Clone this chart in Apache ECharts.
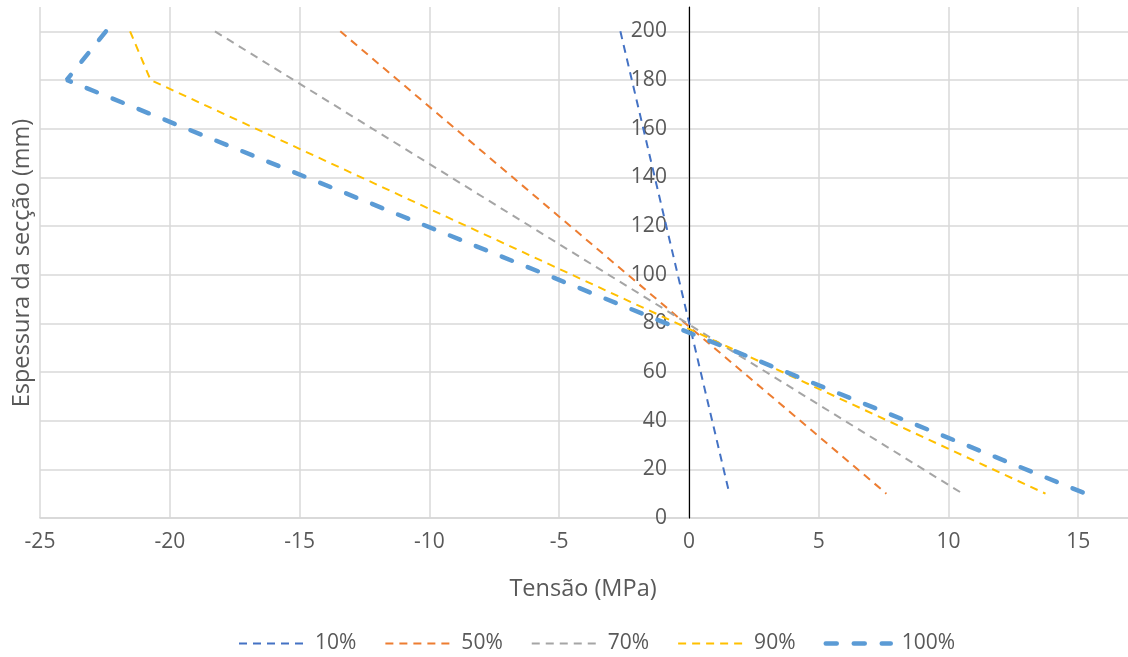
<!DOCTYPE html>
<html>
<head>
<meta charset="utf-8">
<script src="https://cdn.jsdelivr.net/npm/echarts@6/dist/echarts.min.js"></script>
<style>
html,body{margin:0;padding:0;background:#fff;}
#chart{width:1128px;height:657px;}
</style>
</head>
<body>
<div id="chart"></div>
<script>
// Data
const seriesNames = ['10%', '50%', '70%', '90%', '100%'];
const thickness10 = [200, 10];
const stress10 = [-2.64, 1.56];
const thickness50 = [200, 10];
const stress50 = [-13.43, 7.61];
const thickness70 = [200, 10];
const stress70 = [-18.26, 10.55];
const thickness90 = [200, 180, 10];
const stress90 = [-21.53, -20.74, 13.74];
const thickness100 = [200, 180, 10];
const stress100 = [-22.46, -23.97, 15.29];
const xTitle = 'Tensão (MPa)';
const yTitle = 'Espessura da secção (mm)';

const FONT = 'Open Sans';
const TXT = '#595959';

function pairs(xs, ys) { return xs.map((x, i) => [x, ys[i]]); }

const styles = [
  { color: '#4472C4', width: 2, dash: [8, 6], cap: 'butt' },
  { color: '#ED7D31', width: 2, dash: [8, 6], cap: 'butt' },
  { color: '#A5A5A5', width: 2, dash: [8, 6], cap: 'butt' },
  { color: '#FFC000', width: 2, dash: [8, 6], cap: 'butt' },
  { color: '#5B9BD5', width: 4.5, dash: [11, 17], cap: 'round' }
];
const dataSets = [
  pairs(stress10, thickness10),
  pairs(stress50, thickness50),
  pairs(stress70, thickness70),
  pairs(stress90, thickness90),
  pairs(stress100, thickness100)
];

const GRID_LEFT = 40, GRID_RIGHT_PX = 1208, X_MIN = -25, X_MAX = 20;
const zeroOffset = -(GRID_LEFT + (0 - X_MIN) / (X_MAX - X_MIN) * (GRID_RIGHT_PX - GRID_LEFT) - GRID_LEFT);

const chart = echarts.init(document.getElementById('chart'), null, { renderer: 'canvas' });
chart.setOption({
  animation: false,
  backgroundColor: '#fff',
  textStyle: { fontFamily: FONT },
  grid: { left: GRID_LEFT, right: 1128 - GRID_RIGHT_PX, top: 7, bottom: 139, containLabel: false, outerBoundsMode: 'none' },
  xAxis: {
    type: 'value', min: X_MIN, max: X_MAX, interval: 5,
    axisLine: { show: true, onZero: false, lineStyle: { color: '#d0d0d0', width: 1.5 } },
    axisTick: { show: false },
    axisLabel: { color: TXT, fontSize: 21, fontFamily: FONT, margin: 14 },
    splitLine: { show: true, lineStyle: { color: '#d9d9d9', width: 1.5 } }
  },
  yAxis: {
    type: 'value', min: 0, max: 210, interval: 20,
    position: 'left',
    offset: zeroOffset,
    z: 1,
    axisLine: { show: true, onZero: false, lineStyle: { color: '#000', width: 1.2 } },
    axisTick: { show: false },
    axisLabel: { color: TXT, fontSize: 21, fontFamily: FONT, margin: 22, showMaxLabel: false },
    splitLine: { show: true, showMaxLine: false, lineStyle: { color: '#d9d9d9', width: 1.5 } }
  },
  legend: {
    left: 233, top: 628,
    itemWidth: 65, itemHeight: 22, itemGap: 28,
    itemStyle: { opacity: 0 },
    textStyle: { color: TXT, fontSize: 21, fontFamily: FONT, padding: [0, 0, 0, 6] },
    data: seriesNames.map((n, i) => ({
      name: n,
      itemStyle: { opacity: 0 },
      lineStyle: { color: styles[i].color, width: styles[i].width, type: styles[i].dash, cap: styles[i].cap }
    }))
  },
  graphic: [
    { type: 'text', style: { text: xTitle, fill: TXT, font: '23.5px "Open Sans"', textAlign: 'center', textVerticalAlign: 'middle' }, x: 583, y: 589 },
    { type: 'text', style: { text: yTitle, fill: TXT, font: '23.5px "Open Sans"', textAlign: 'center', textVerticalAlign: 'middle' }, x: 22, y: 263, rotation: Math.PI / 2 }
  ],
  series: seriesNames.map((n, i) => ({
    name: n,
    type: 'line',
    data: dataSets[i],
    symbol: 'none',
    showSymbol: false,
    color: styles[i].color,
    lineStyle: { color: styles[i].color, width: styles[i].width, type: styles[i].dash, cap: styles[i].cap }
  }))
});
</script>
</body>
</html>
